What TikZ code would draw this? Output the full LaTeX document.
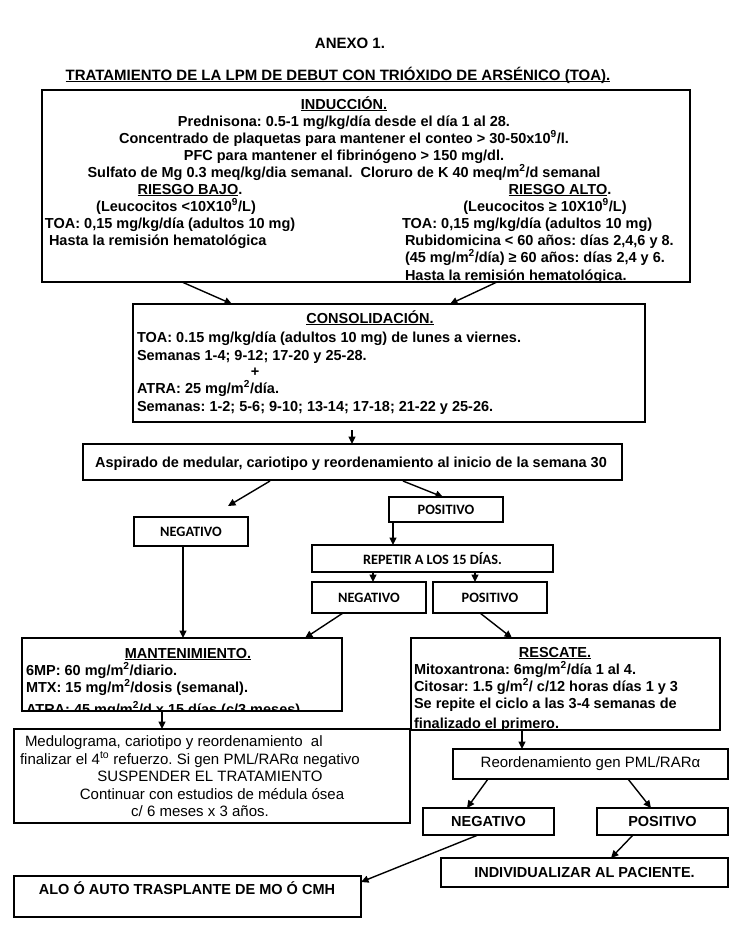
\documentclass[tikz,border=0pt]{standalone}
\usepackage{fontspec}
\setmainfont{Liberation Sans}
\newfontfamily\calfont{Carlito}
\usetikzlibrary{arrows.meta,calc}
\frenchspacing
\newcommand\myul[1]{\setbox0\hbox{#1}\rlap{\rule[-2.4pt]{\wd0}{1.1pt}}\box0}
\newcommand\sups[1]{\textsuperscript{#1}}
\begin{document}
\begin{tikzpicture}[x=1pt,y=-1pt,
  box/.style={draw=black, line width=1.5pt, inner sep=0pt, outer sep=0pt},
  txt/.style={inner sep=0pt, outer sep=0pt, font=\fontsize{14.5}{17}\selectfont\bfseries},
  rtxt/.style={inner sep=0pt, outer sep=0pt, font=\fontsize{15}{17}\selectfont},
  ctxt/.style={inner sep=0pt, outer sep=0pt, font=\fontsize{14.3}{17}\selectfont\calfont\bfseries},
  ttxt/.style={inner sep=0pt, outer sep=0pt, font=\fontsize{15}{17}\selectfont\bfseries},
  arr/.style={line width=1.4pt, -{Triangle[length=7.5pt,width=7pt]}},
]
\fill[white] (0,0) rectangle (751,927);
\useasboundingbox (0,0) rectangle (751,927);

% titles
\node[ttxt, anchor=base] (anexo) at (350,48) {ANEXO 1.};
\node[ttxt, anchor=base] (titulo) at (338,80) {\myul{TRATAMIENTO DE LA LPM DE DEBUT CON TRIÓXIDO DE ARSÉNICO (TOA).}};

% boxes
\node[box, line width=1.7pt, minimum width=648pt, minimum height=192pt] (ind) at (366,186) {};
\node[box, minimum width=512pt, minimum height=118pt] (cons) at (389,363) {};
\node[box, minimum width=539pt, minimum height=36pt] (asp) at (352.5,462) {};
\node[box, minimum width=114pt, minimum height=29pt] (negL) at (191,531.5) {};
\node[box, minimum width=114pt, minimum height=25pt] (pos) at (446,509.5) {};
\node[box, minimum width=241pt, minimum height=27pt] (rep) at (432.5,558.5) {};
\node[box, minimum width=114pt, minimum height=31pt] (negM) at (369,597.5) {};
\node[box, minimum width=114pt, minimum height=31pt] (posM) at (490,597.5) {};
\node[box, minimum width=320pt, minimum height=73pt] (mant) at (182,674.5) {};
\node[box, minimum width=309pt, minimum height=92pt] (resc) at (565.5,684) {};
\node[box, minimum width=396pt, minimum height=94pt] (medu) at (212,776) {};
\node[box, minimum width=275pt, minimum height=30pt] (reord) at (590.5,764) {};
\node[box, minimum width=131pt, minimum height=27pt] (negB) at (488.5,821.5) {};
\node[box, minimum width=131pt, minimum height=27pt] (posB) at (662.5,821.5) {};
\node[box, minimum width=287pt, minimum height=29pt] (indiv) at (584.5,872.5) {};
\node[box, minimum width=347pt, minimum height=41pt] (alo) at (187.5,896.5) {};

% induction text
\begin{scope}
\clip (ind.north west) rectangle (ind.south east);
\node[txt, anchor=base] (i1) at (344,109) {\myul{INDUCCIÓN.}};
\node[txt, anchor=base] (i2) at (344,126) {Prednisona: 0.5-1 mg/kg/día desde el día 1 al 28.};
\node[txt, anchor=base] (i3) at (344,143) {Concentrado de plaquetas para mantener el conteo > 30-50x10\sups{9}/l.};
\node[txt, anchor=base] (i4) at (344,160) {PFC para mantener el fibrinógeno > 150 mg/dl.};
\node[txt, anchor=base] (i5) at (344,177) {Sulfato de Mg 0.3 meq/kg/dia semanal.\ \ Cloruro de K 40 meq/m\sups{2}/d semanal};
\node[txt, anchor=base] (i6) at (190,194) {\myul{RIESGO BAJO}.};
\node[txt, anchor=base] (i7) at (560,194) {\myul{RIESGO ALTO}.};
\node[txt, anchor=base] (i8) at (176,211) {(Leucocitos <10X10\sups{9}/L)};
\node[txt, anchor=base] (i9) at (545,211) {(Leucocitos ≥ 10X10\sups{9}/L)};
\node[txt, anchor=base west] (i10) at (45,228) {TOA: 0,15 mg/kg/día (adultos 10 mg)};
\node[txt, anchor=base west] (i11) at (402,228) {TOA: 0,15 mg/kg/día (adultos 10 mg)};
\node[txt, anchor=base west] (i12) at (49,245) {Hasta la remisión hematológica};
\node[txt, anchor=base west] (i13) at (405,245) {Rubidomicina < 60 años: días 2,4,6 y 8.};
\node[txt, anchor=base west] (i14) at (405,262) {(45 mg/m\sups{2}/día) ≥ 60 años: días 2,4 y 6.};
\node[txt, anchor=base west] (i15) at (405,280) {Hasta la remisión hematológica.};
\end{scope}

% consolidation text
\node[txt, anchor=base] (c1) at (370,323) {\myul{CONSOLIDACIÓN.}};
\node[txt, anchor=base west] (c2) at (137,342) {TOA: 0.15 mg/kg/día (adultos 10 mg) de lunes a viernes.};
\node[txt, anchor=base west] (c3) at (137,360) {Semanas 1-4; 9-12; 17-20 y 25-28.};
\node[txt, anchor=base] (c4) at (255,376) {+};
\node[txt, anchor=base west] (c5) at (137,393) {ATRA: 25 mg/m\sups{2}/día.};
\node[txt, anchor=base west] (c6) at (137,411) {Semanas: 1-2; 5-6; 9-10; 13-14; 17-18; 21-22 y 25-26.};

\node[txt, anchor=base] (a1) at (351,467) {Aspirado de medular, cariotipo y reordenamiento al inicio de la semana 30};

% Calibri labels
\node[ctxt] (tnegL) at (negL) {NEGATIVO};
\node[ctxt] (tpos) at (pos) {POSITIVO};
\node[ctxt] (trep) at (rep) {REPETIR A LOS 15 DÍAS.};
\node[ctxt] (tnegM) at (negM) {NEGATIVO};
\node[ctxt] (tposM) at (posM) {POSITIVO};

% mantenimiento
\begin{scope}
\clip (mant.north west) rectangle (mant.south east);
\node[txt, anchor=base] (m1) at (188,658) {\myul{MANTENIMIENTO.}};
\node[txt, anchor=base west] (m2) at (26,675) {6MP: 60 mg/m\sups{2}/diario.};
\node[txt, anchor=base west] (m3) at (26,692) {MTX: 15 mg/m\sups{2}/dosis (semanal).};
\node[txt, anchor=base west] (m4) at (26,714) {ATRA: 45 mg/m\sups{2}/d x 15 días (c/3 meses)};
\end{scope}

% rescate
\begin{scope}
\clip (resc.north west) rectangle (resc.south east);
\node[txt, anchor=base] (r1) at (555,657) {\myul{RESCATE.}};
\node[txt, anchor=base west] (r2) at (414,674) {Mitoxantrona: 6mg/m\sups{2}/día 1 al 4.};
\node[txt, anchor=base west] (r3) at (414,691) {Citosar: 1.5 g/m\sups{2}/ c/12 horas días 1 y 3};
\node[txt, anchor=base west] (r4) at (414,708) {Se repite el ciclo a las 3-4 semanas de};
\node[txt, anchor=base west] (r5) at (414,728) {finalizado el primero.};
\end{scope}

% medulograma
\node[rtxt, anchor=base west] (d1) at (25,746) {Medulograma, cariotipo y reordenamiento\ \ al};
\node[rtxt, anchor=base west] (d2) at (20,764) {finalizar el 4\sups{to} refuerzo. Si gen PML/RARα negativo};
\node[rtxt, anchor=base] (d3) at (210,781) {SUSPENDER EL TRATAMIENTO};
\node[rtxt, anchor=base] (d4) at (212,799) {Continuar con estudios de médula ósea};
\node[rtxt, anchor=base] (d5) at (200,816) {c/ 6 meses x 3 años.};

\node[rtxt] (treord) at (reord) {Reordenamiento gen PML/RARα};
\node[txt] (tnegB) at (negB) {NEGATIVO};
\node[txt] (tposB) at (posB) {POSITIVO};
\node[txt] (tindiv) at (indiv) {INDIVIDUALIZAR AL PACIENTE.};
\node[txt] (talo) at (187,888) {ALO Ó AUTO TRASPLANTE DE MO Ó CMH};

% connectors
\draw[arr] ($(ind.south west)+(140,0)$) -- ($(cons.north west)+(99,0)$);
\draw[arr] ($(ind.south west)+(455,0)$) -- ($(cons.north west)+(317,0)$);
\draw[arr] ($(cons.south west)+(219,8)$) -- ($(asp.north west)+(269,0)$);
\draw[arr] ($(asp.south west)+(187,1)$) -- ($(negL.north west)+(94,-11)$);
\draw[arr] ($(asp.south west)+(320,1)$) -- ($(pos.north west)+(54,0)$);
\draw[arr] ($(negL.south west)+(49,0)$) -- ($(mant.north west)+(161,0)$);
\draw[arr] ($(pos.south west)+(4,0)$) -- ($(rep.north west)+(81,0)$);
\draw[arr] ($(rep.south west)+(61,0)$) -- ($(negM.north west)+(61,0)$);
\draw[arr] ($(rep.south west)+(163,0)$) -- ($(posM.north west)+(42,0)$);
\draw[arr] ($(negM.south west)+(31,0)$) -- ($(mant.north east)+(-37,0)$);
\draw[arr] ($(posM.south west)+(47,0)$) -- ($(resc.north west)+(101,0)$);
\draw[arr] ($(mant.south west)+(140,0)$) -- ($(medu.north west)+(148,0)$);
\draw[arr] ($(resc.south west)+(111,0)$) -- ($(reord.north west)+(69,0)$);
\draw[arr] ($(reord.south west)+(35,0)$) -- ($(negB.north west)+(44,0)$);
\draw[arr] ($(reord.south west)+(175,0)$) -- ($(posB.north west)+(54,0)$);
\draw[arr] ($(negB.south west)+(55,0)$) -- ($(alo.north east)+(0,6)$);
\draw[arr] ($(posB.south west)+(36,0)$) -- ($(indiv.north west)+(170,0)$);
\end{tikzpicture}
\end{document}
